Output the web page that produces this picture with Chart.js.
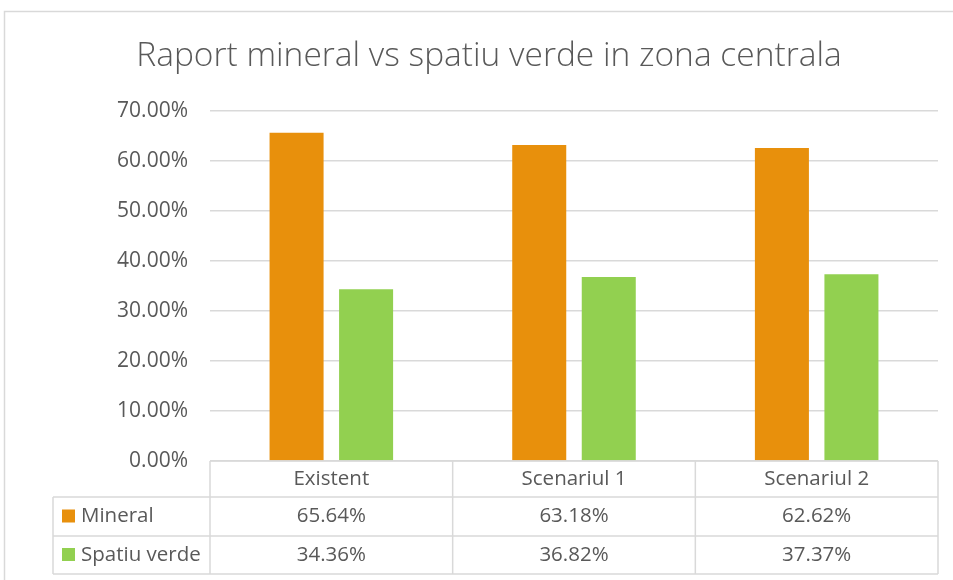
<!DOCTYPE html>
<html>
<head>
<meta charset="utf-8">
<script src="https://cdn.jsdelivr.net/npm/chart.js@4.4.0/dist/chart.umd.min.js"></script>
<style>
  html, body { margin: 0; padding: 0; background: #fff; overflow: hidden; }
  #wrap { position: relative; width: 953px; height: 580px; }
</style>
</head>
<body>
<div id="wrap"><canvas id="raportChart" width="953" height="580"></canvas></div>
<script>
const categories = ["Existent", "Scenariul 1", "Scenariul 2"];
const seriesNames = ["Mineral", "Spatiu verde"];
const mineral = [65.64, 63.18, 62.62];
const spatiuVerde = [34.36, 36.82, 37.37];
const yTicksMax = 70;
const yTicksStep = 10;

const seriesColors = ["#E8900C", "#92D050"];
const textColor = "#595959";
const lineColor = "#d9d9d9";
const fontFamily = "'Open Sans', Lato, sans-serif";
const tickFontSize = 21;
const tableFontSize = 20.5;

const pct = v => v.toFixed(2) + "%";

// frame around the whole chart object (clipped on right and bottom)
const chartFrame = {
  id: "chartFrame",
  beforeDraw(chart) {
    const ctx = chart.ctx;
    ctx.save();
    ctx.fillStyle = "#fff";
    ctx.fillRect(0, 0, chart.width, chart.height);
    ctx.strokeStyle = lineColor;
    ctx.lineWidth = 1.5;
    ctx.beginPath();
    ctx.moveTo(4.5, chart.height);
    ctx.lineTo(4.5, 11.5);
    ctx.lineTo(chart.width, 11.5);
    ctx.stroke();
    ctx.restore();
  }
};

// data table under the plot area, with legend keys in the first column
const dataTable = {
  id: "dataTable",
  afterDraw(chart) {
    const { ctx, chartArea } = chart;
    const x = chart.scales.x;
    const half = (x.getPixelForValue(1) - x.getPixelForValue(0)) / 2;
    const top = chartArea.bottom;
    const rowY = [top, top + 36, top + 75, top + 113];
    const tableLeft = 53;
    const series = [mineral, spatiuVerde];

    ctx.save();
    ctx.strokeStyle = lineColor;
    ctx.lineWidth = 1.5;
    ctx.beginPath();
    // horizontal rules
    ctx.moveTo(chartArea.left, rowY[0]);
    ctx.lineTo(chartArea.right, rowY[0]);
    for (let r = 1; r < rowY.length; r++) {
      ctx.moveTo(tableLeft, rowY[r]);
      ctx.lineTo(chartArea.right, rowY[r]);
    }
    // vertical rules
    ctx.moveTo(tableLeft, rowY[1]);
    ctx.lineTo(tableLeft, rowY[3]);
    categories.forEach((c, i) => {
      const cx = x.getPixelForValue(i);
      ctx.moveTo(cx - half, rowY[0]);
      ctx.lineTo(cx - half, rowY[3]);
    });
    ctx.moveTo(chartArea.right, rowY[0]);
    ctx.lineTo(chartArea.right, rowY[3]);
    ctx.stroke();

    ctx.fillStyle = textColor;
    ctx.font = tableFontSize + "px " + fontFamily;
    ctx.textBaseline = "middle";
    ctx.textAlign = "center";
    categories.forEach((c, i) => {
      const cx = x.getPixelForValue(i);
      ctx.fillText(c, cx, (rowY[0] + rowY[1]) / 2);
      series.forEach((vals, s) => {
        ctx.fillText(pct(vals[i]), cx, (rowY[s + 1] + rowY[s + 2]) / 2);
      });
    });

    ctx.textAlign = "left";
    seriesNames.forEach((name, s) => {
      const my = (rowY[s + 1] + rowY[s + 2]) / 2;
      ctx.fillStyle = seriesColors[s];
      ctx.fillRect(62, my - 7, 13, 13);
      ctx.fillStyle = textColor;
      ctx.fillText(name, 81, my);
    });
    ctx.restore();
  }
};

new Chart(document.getElementById("raportChart"), {
  type: "bar",
  data: {
    labels: categories,
    datasets: [
      {
        label: seriesNames[0],
        data: mineral,
        backgroundColor: seriesColors[0],
        barPercentage: 0.777,
        categoryPercentage: 0.573
      },
      {
        label: seriesNames[1],
        data: spatiuVerde,
        backgroundColor: seriesColors[1],
        barPercentage: 0.777,
        categoryPercentage: 0.573
      }
    ]
  },
  options: {
    responsive: false,
    animation: false,
    layout: {
      padding: { left: 40, right: 15, top: 0, bottom: 119 }
    },
    plugins: {
      legend: { display: false },
      tooltip: { enabled: false },
      title: {
        display: true,
        text: "Raport mineral vs spatiu verde in zona centrala",
        color: textColor,
        font: { family: fontFamily, size: 33.5, weight: 300 },
        padding: { top: 36.7, bottom: 34.1 }
      }
    },
    scales: {
      x: {
        display: false
      },
      y: {
        min: 0,
        max: yTicksMax,
        ticks: {
          stepSize: yTicksStep,
          color: textColor,
          font: { family: fontFamily, size: tickFontSize },
          padding: 22,
          callback: v => pct(v)
        },
        grid: {
          color: lineColor,
          lineWidth: 1.5,
          drawTicks: false
        },
        border: { display: false },
        afterFit(scale) {
          scale.width = 170;
        }
      }
    }
  },
  plugins: [chartFrame, dataTable]
});
</script>
</body>
</html>
